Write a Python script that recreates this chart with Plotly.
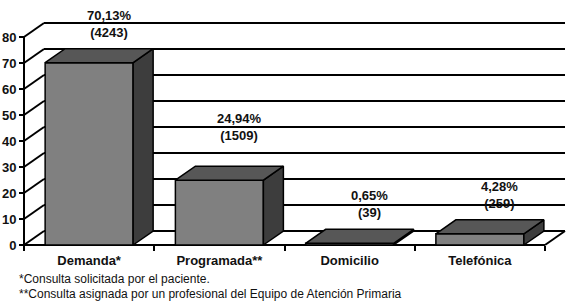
import plotly.graph_objects as go

# ---- data ----
categories = ["Demanda*", "Programada**", "Domicilio", "Telefónica"]
percentages = [70.13, 24.94, 0.65, 4.28]
counts = [4243, 1509, 39, 259]
pct_labels = ["70,13%", "24,94%", "0,65%", "4,28%"]
y_ticks = [0, 10, 20, 30, 40, 50, 60, 70, 80]
footnotes = ["*Consulta solicitada por el paciente.",
             "**Consulta asignada por un profesional del Equipo de Atención Primaria"]

# ---- layout geometry (pixels) ----
W, H = 574, 304
ML, MR, MT, MB = 14, 0, 0, 49
plot_w = W - ML - MR
plot_h = H - MT - MB
px_per_cat = 130.25
px_per_val = 2.6
pad_left = 10      # px between plot edge and y axis
pad_bottom = 10    # px between plot bottom and x axis
depth_px_x = 20
depth_px_y = 14

x_min = -0.5 - pad_left / px_per_cat
x_max = x_min + plot_w / px_per_cat
y_min = -pad_bottom / px_per_val
y_max = y_min + plot_h / px_per_val
dx = depth_px_x / px_per_cat
dy = depth_px_y / px_per_val

n = len(categories)
idx = list(range(n))
bw = 88 / px_per_cat
ymax_axis = max(y_ticks)

FONT = "Arial, Liberation Sans, sans-serif"
FRONT = "#808080"
TOP = "#575757"
SIDE = "#3d3d3d"

fig = go.Figure()

# side and top faces
for i, v in zip(idx, percentages):
    xl, xr = i - bw / 2, i + bw / 2
    fig.add_trace(go.Scatter(
        x=[xr, xr + dx, xr + dx, xr, xr], y=[0, dy, v + dy, v, 0],
        mode="lines", fill="toself", fillcolor=SIDE,
        line=dict(color="black", width=1.5), hoverinfo="skip", showlegend=False))
    fig.add_trace(go.Scatter(
        x=[xl, xr, xr + dx, xl + dx, xl], y=[v, v, v + dy, v + dy, v],
        mode="lines", fill="toself", fillcolor=TOP,
        line=dict(color="black", width=1.5), hoverinfo="skip", showlegend=False))

# front faces
fig.add_trace(go.Bar(
    x=idx, y=percentages, width=bw,
    marker=dict(color=FRONT, line=dict(color="black", width=1.5)),
    showlegend=False, hoverinfo="skip"))

shapes = []
line_style = dict(color="black", width=2)
# back wall gridlines and left wall diagonals
for t in y_ticks:
    shapes.append(dict(type="line", xref="x", yref="y", layer="below",
                       x0=-0.5 + dx, x1=n - 0.5 + dx, y0=t + dy, y1=t + dy, line=line_style))
    shapes.append(dict(type="line", xref="x", yref="y", layer="below",
                       x0=-0.5, x1=-0.5 + dx, y0=t, y1=t + dy, line=line_style))
# floor front edge and right diagonal
shapes.append(dict(type="line", xref="x", yref="y", layer="below",
                   x0=-0.5, x1=n - 0.5, y0=0, y1=0, line=line_style))
shapes.append(dict(type="line", xref="x", yref="y", layer="below",
                   x0=n - 0.5, x1=n - 0.5 + dx, y0=0, y1=dy, line=line_style))
# y axis line
shapes.append(dict(type="line", xref="x", yref="y", layer="above",
                   x0=-0.5, x1=-0.5, y0=0, y1=ymax_axis, line=line_style))

annotations = []
label_nudge_px = [0, 14, 0, 0]
for i, v, p, c, nud in zip(idx, percentages, pct_labels, counts, label_nudge_px):
    annotations.append(dict(
        x=i, y=v + dy, xref="x", yref="y", xshift=depth_px_x, yshift=7 + nud,
        text=f"{p}<br>({c})", showarrow=False, xanchor="center", yanchor="bottom",
        font=dict(family=FONT, size=13, color="#111111", weight="bold")))

foot_y_px = [279, 294]
for txt, ypx in zip(footnotes, foot_y_px):
    annotations.append(dict(
        x=(17 - ML) / plot_w, y=(H - MB - ypx) / plot_h, xref="paper", yref="paper",
        text=txt, showarrow=False, xanchor="left", yanchor="middle",
        font=dict(family=FONT, size=12, color="#111111")))

fig.update_layout(
    width=W, height=H,
    margin=dict(l=ML, r=MR, t=MT, b=MB, pad=0),
    paper_bgcolor="white", plot_bgcolor="white",
    shapes=shapes, annotations=annotations, bargap=0,
    xaxis=dict(range=[x_min, x_max], tickmode="array", tickvals=idx, ticktext=categories,
               ticks="", showgrid=False, zeroline=False, showline=False,
               anchor="free", position=pad_bottom / plot_h,
               tickfont=dict(family=FONT, size=13, color="#111111", weight="bold"),
               ticklabelstandoff=6,
               minor=dict(tickmode="array", tickvals=[k - 0.5 for k in range(n + 1)],
                          ticks="outside", ticklen=5, tickwidth=2, tickcolor="black",
                          showgrid=False)),
    yaxis=dict(range=[y_min, y_max], tickmode="array", tickvals=y_ticks,
               ticks="outside", ticklen=5, tickwidth=2, tickcolor="black",
               showgrid=False, zeroline=False, showline=False,
               anchor="free", position=pad_left / plot_w,
               tickfont=dict(family=FONT, size=13, color="#111111", weight="bold")),
)

fig.write_html("out.html",
               config={"displayModeBar": False, "staticPlot": True},
               post_script="document.body.style.margin='0';document.body.style.padding='0';")
